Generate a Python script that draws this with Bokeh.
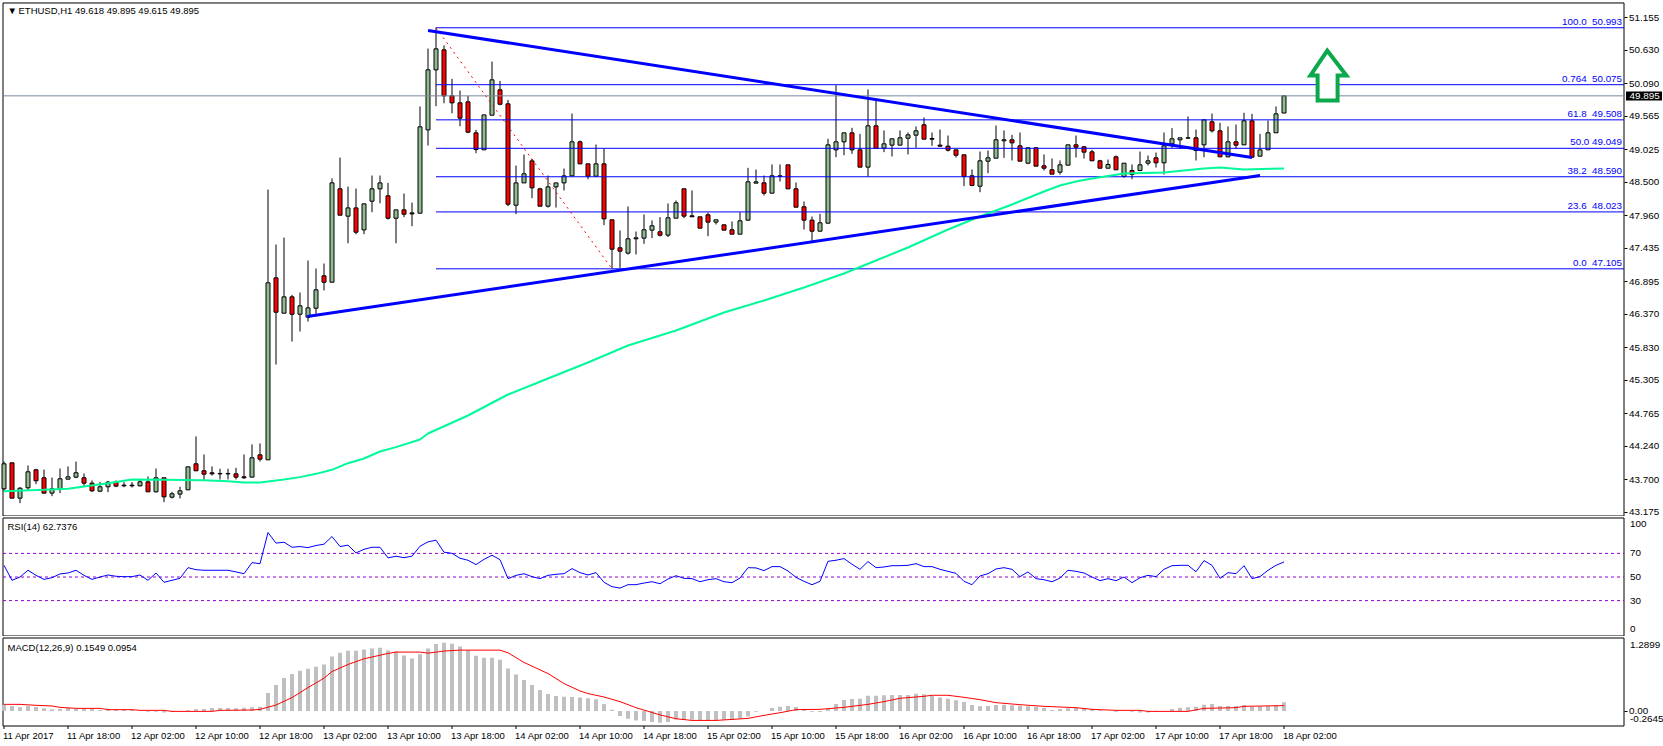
from bokeh.plotting import figure
from bokeh.layouts import column
from bokeh.models import Range1d, FixedTicker, Label, ColumnDataSource, NumeralTickFormatter
from bokeh.core.properties import value
from bokeh.embed import file_html
from bokeh.resources import INLINE

# ---------- data ----------
opens = [
43.556,43.976,43.406,43.573,43.863,43.734,43.487,43.551,43.712,43.745,
43.734,43.648,43.519,43.589,43.664,43.616,43.616,43.605,43.669,43.508,
43.734,43.422,43.471,43.540,43.960,43.847,43.815,43.804,43.804,43.798,
43.750,43.745,44.105,44.024,46.959,46.389,46.653,46.373,46.325,46.470,
46.992,46.889,48.395,47.954,48.088,47.733,48.196,48.395,48.282,47.921,
48.056,48.007,48.002,49.346,50.314,50.637,49.895,49.782,49.798,49.298,
49.024,49.583,49.992,49.766,48.131,48.491,48.846,48.395,48.115,48.427,
48.491,48.604,49.153,48.798,48.599,48.798,47.896,47.444,47.358,47.589,
47.600,47.729,47.702,47.648,47.922,48.396,47.960,47.944,47.976,47.858,
47.815,47.734,47.664,47.890,48.487,48.492,48.325,48.605,48.782,48.395,
48.105,47.890,47.712,47.841,49.024,49.153,49.298,49.024,48.745,49.411,
49.051,49.100,49.100,49.212,49.261,49.428,49.207,49.100,49.083,49.024,
48.944,48.605,48.438,48.841,48.890,49.170,49.186,49.089,48.809,49.057,
48.766,48.702,48.664,48.777,49.105,49.073,48.992,48.847,48.728,48.911,
48.594,48.691,48.691,48.809,48.895,48.815,49.121,49.186,49.212,49.218,
49.105,49.476,49.331,48.911,49.153,49.105,49.492,48.922,49.024,49.299,
49.618]
highs = [
43.997,43.976,43.583,43.933,43.879,43.868,43.739,43.884,43.917,43.997,
43.804,43.691,43.669,43.685,43.691,43.664,43.664,43.702,43.755,43.884,
43.734,43.508,43.589,43.911,44.401,44.110,43.917,43.879,43.879,43.895,
44.110,44.272,44.288,48.384,47.497,47.610,46.685,46.723,47.239,47.110,
47.191,48.562,48.900,48.432,48.400,48.153,48.610,48.610,48.491,48.056,
48.319,48.174,49.723,50.658,50.992,50.707,50.169,49.981,49.895,49.346,
49.588,50.449,50.137,49.830,48.771,48.948,48.878,48.411,48.610,48.491,
48.723,49.610,49.174,48.798,49.110,49.040,47.896,47.723,48.111,47.707,
47.982,47.885,47.939,48.159,48.207,48.396,48.369,47.944,48.014,47.896,
47.815,47.869,48.019,48.734,48.707,48.610,48.788,48.788,48.782,48.497,
48.191,47.949,47.992,49.202,50.067,49.298,49.379,49.282,49.998,49.831,
49.336,49.202,49.336,49.304,49.401,49.546,49.304,49.352,49.255,49.024,
48.944,48.707,48.997,49.013,49.417,49.336,49.266,49.304,49.057,49.057,
48.949,48.884,48.852,49.105,49.255,49.083,49.024,48.863,48.868,48.933,
48.809,48.788,48.997,48.933,48.981,49.304,49.374,49.218,49.562,49.352,
49.508,49.610,49.460,49.401,49.433,49.621,49.605,49.282,49.497,49.723,
49.895]
lows = [
43.530,43.406,43.325,43.540,43.632,43.487,43.438,43.487,43.712,43.728,
43.605,43.508,43.503,43.503,43.583,43.583,43.578,43.594,43.508,43.497,
43.341,43.400,43.400,43.540,43.847,43.702,43.771,43.707,43.707,43.707,
43.718,43.745,43.997,44.024,45.561,46.389,45.932,46.094,46.255,46.352,
46.755,46.889,47.970,47.518,47.663,47.663,48.018,48.163,47.900,47.518,
47.938,47.792,48.002,49.094,49.728,49.776,49.615,49.405,49.293,48.970,
49.024,49.583,49.744,48.115,47.986,48.491,48.244,48.115,48.093,48.093,
48.368,48.604,48.798,48.551,48.599,47.809,47.105,47.121,47.336,47.336,
47.508,47.600,47.627,47.616,47.922,47.922,47.944,47.761,47.632,47.820,
47.729,47.664,47.664,47.879,48.487,48.288,48.325,48.513,48.395,48.099,
47.739,47.535,47.712,47.841,48.906,48.938,48.960,48.745,48.594,49.046,
48.987,48.917,49.100,48.949,49.057,49.196,49.089,49.083,48.997,48.901,
48.438,48.438,48.341,48.648,48.890,48.895,48.852,48.841,48.793,48.761,
48.691,48.632,48.626,48.777,48.901,48.884,48.847,48.728,48.728,48.702,
48.573,48.551,48.680,48.772,48.739,48.626,49.057,49.040,49.212,48.852,
48.906,49.304,48.911,48.906,49.040,49.105,48.895,48.922,49.024,49.299,
49.615]
closes = [
43.960,43.406,43.567,43.831,43.686,43.487,43.556,43.718,43.750,43.815,
43.648,43.524,43.589,43.664,43.600,43.605,43.605,43.669,43.508,43.734,
43.427,43.476,43.524,43.911,43.847,43.793,43.798,43.798,43.798,43.745,
43.734,44.057,44.035,46.879,46.405,46.653,46.373,46.508,46.475,46.766,
46.889,48.492,47.970,48.088,47.696,48.153,48.395,48.491,47.921,48.056,
47.986,47.991,49.395,50.314,50.653,49.895,49.782,49.535,49.309,49.029,
49.588,50.153,49.760,48.147,48.491,48.637,48.411,48.115,48.427,48.491,
48.604,49.153,48.798,48.599,48.798,47.911,47.422,47.390,47.589,47.605,
47.734,47.799,47.648,47.928,48.170,47.955,47.944,47.761,47.858,47.896,
47.729,47.664,47.879,48.508,48.508,48.325,48.605,48.594,48.395,48.099,
47.890,47.712,47.847,49.105,49.153,49.298,49.024,48.745,49.411,49.046,
49.121,49.202,49.218,49.266,49.331,49.196,49.196,49.083,49.019,48.938,
48.594,48.449,48.847,48.895,49.186,49.186,49.137,48.841,49.057,48.761,
48.728,48.632,48.782,49.105,49.067,48.987,48.847,48.728,48.788,48.702,
48.809,48.626,48.782,48.847,48.815,49.089,49.202,49.218,49.218,49.013,
49.508,49.331,48.911,49.153,49.100,49.492,48.906,49.024,49.299,49.605,
49.895]

ema_bars = [0,5,8,10,13,16,20,25,28,30,32,35,37,39,41,43,45,47,49,52,53,58,63,68,73,78,84,90,95,100,105,109,113,118,122,126,130,132,134,136,140,145,150,152,155,160]
ema_vals = [43.519,43.540,43.556,43.594,43.648,43.707,43.702,43.696,43.680,43.659,43.659,43.707,43.745,43.798,43.863,43.970,44.046,44.159,44.229,44.352,44.449,44.739,45.078,45.336,45.594,45.868,46.110,46.400,46.594,46.804,47.030,47.239,47.449,47.739,47.949,48.142,48.352,48.449,48.513,48.562,48.643,48.659,48.723,48.739,48.707,48.723]

rsi_vals = [
59.9,47.2,50.0,55.7,51.4,48.0,49.4,52.6,53.4,55.7,
51.4,48.0,50.0,51.7,50.6,50.3,50.3,51.7,47.2,53.4,
45.5,47.2,48.9,57.9,56.2,55.7,55.7,55.7,55.7,54.3,
52.8,62.2,61.3,87.7,78.7,79.5,75.2,75.8,74.9,76.7,
77.8,84.3,75.8,77.0,70.4,73.5,75.2,75.2,66.2,67.6,
66.4,67.6,76.1,79.8,81.2,71.0,70.1,65.9,64.2,60.5,
65.0,68.4,64.7,48.6,51.4,52.8,50.3,48.6,51.4,52.3,
52.8,57.1,53.7,51.7,53.7,45.5,41.8,40.6,43.5,43.5,
44.9,46.0,44.3,48.3,51.1,48.9,48.6,46.0,47.7,48.6,
46.0,45.2,49.1,57.9,57.7,55.4,58.8,58.8,55.1,49.7,
46.3,43.5,46.3,63.3,64.2,65.6,60.8,56.5,63.1,57.9,
58.5,59.6,59.6,59.9,61.3,58.8,58.8,56.5,54.8,53.1,
46.3,43.5,50.9,52.8,56.8,57.9,56.5,50.3,54.3,48.6,
47.7,46.0,49.1,55.7,54.8,53.4,50.0,46.9,48.6,46.9,
50.0,45.2,49.4,51.4,50.3,56.5,59.6,59.9,59.9,54.5,
63.9,59.9,48.9,53.7,52.8,59.6,48.6,50.3,55.7,59.9,
62.7376]

macd_hist = [
0.106,0.089,0.065,0.089,0.071,0.047,0.030,0.035,0.059,0.035,
0.047,0.047,0.018,0.041,0.030,0.030,0.024,0.006,-0.012,-0.012,
-0.024,-0.018,-0.006,0.012,0.030,0.035,0.053,0.053,0.053,0.047,
0.059,0.065,0.077,0.319,0.461,0.585,0.656,0.710,0.745,0.780,
0.822,0.964,1.029,1.064,1.064,1.088,1.106,1.118,1.070,1.053,
0.982,0.929,1.005,1.106,1.183,1.207,1.189,1.141,1.076,0.976,
0.940,0.940,0.905,0.751,0.644,0.550,0.461,0.373,0.302,0.266,
0.254,0.248,0.237,0.225,0.207,0.124,0.024,-0.089,-0.136,-0.166,
-0.177,-0.195,-0.207,-0.195,-0.148,-0.154,-0.154,-0.160,-0.160,-0.160,
-0.154,-0.154,-0.136,-0.095,-0.012,0.000,0.053,0.077,0.089,0.071,
0.035,-0.012,-0.018,0.047,0.124,0.195,0.213,0.219,0.272,0.272,
0.278,0.284,0.284,0.284,0.307,0.296,0.266,0.237,0.219,0.189,
0.160,0.106,0.083,0.089,0.106,0.112,0.101,0.095,0.083,0.077,
0.053,0.018,0.035,0.047,0.059,0.053,0.030,0.012,0.000,-0.012,
0.006,-0.012,-0.024,-0.024,-0.018,0.000,0.035,0.059,0.065,0.077,
0.112,0.124,0.089,0.089,0.089,0.106,0.077,0.083,0.089,0.106,
0.1549]
signal_bars = [0,2,4,6,7,9,12,13,16,17,20,21,26,27,31,32,34,36,38,40,41,43,45,48,49,52,53,54,55,57,62,63,65,68,70,72,73,75,77,79,82,84,86,89,91,93,95,97,99,102,105,108,110,112,115,116,118,120,122,124,127,130,134,136,139,142,143,148,150,152,154,155,160]
signal_vals = [0.118,0.118,0.101,0.089,0.065,0.047,0.047,0.024,0.024,0.012,0.012,-0.006,-0.006,0.012,0.018,0.030,0.106,0.237,0.414,0.580,0.698,0.822,0.923,1.017,1.041,1.041,1.023,1.041,1.059,1.076,1.076,1.029,0.858,0.662,0.485,0.355,0.308,0.248,0.166,0.059,-0.068,-0.136,-0.166,-0.166,-0.148,-0.130,-0.077,-0.030,0.024,0.030,0.065,0.118,0.166,0.225,0.260,0.278,0.278,0.242,0.201,0.148,0.112,0.083,0.059,0.030,0.012,0.012,-0.006,-0.006,0.047,0.053,0.059,0.083,0.0954]

fib_levels = [50.993,50.075,49.508,49.049,48.590,48.023,47.105]
fib_texts = ["100.0\u00a0 50.993","0.764\u00a0 50.075","61.8\u00a0 49.508","50.0 49.049","38.2\u00a0 48.590","23.6\u00a0 48.023","0.0\u00a0 47.105"]
fib_bar = 54
fib_low_bar = 76
last_price = 49.895
down_bars = [53,156]
down_prices = [50.949,48.901]
up_bars = [37.9,157]
up_prices = [46.336,48.61]
arrow_bars = [165.4,167.8,166.7,166.7,164.2,164.2,163.3]
arrow_prices = [50.625,50.223,50.223,49.82,49.82,50.223,50.223]
price_ticks = [51.155,50.630,50.090,49.565,49.025,48.500,47.960,47.435,46.895,46.370,45.830,45.305,44.765,44.240,43.700,43.175]
rsi_levels = [70,50,30]
time_ticks = list(range(0,161,8))
time_labels = ["11 Apr 2017","11 Apr 18:00","12 Apr 02:00","12 Apr 10:00","12 Apr 18:00","13 Apr 02:00","13 Apr 10:00","13 Apr 18:00","14 Apr 02:00","14 Apr 10:00","14 Apr 18:00","15 Apr 02:00","15 Apr 10:00","15 Apr 18:00","16 Apr 02:00","16 Apr 10:00","16 Apr 18:00","17 Apr 02:00","17 Apr 10:00","17 Apr 18:00","18 Apr 02:00"]

# ---------- style ----------
FONT = "Liberation Sans"
FS = "9.9px"
FS_NOTE = "9.5px"
XL, XR = -0.4375, 207.4375     # whole page width
BOX_L, BOX_R = -0.125, 202.5   # pane frame
UP, DOWN = "#8FBC8F", "#FF0000"
BLUE = "#0000FF"

def make(height, y0, y1, top, bottom):
    p = figure(width=1663, height=height, x_range=Range1d(XL, XR), y_range=Range1d(y0, y1),
               output_backend="svg", toolbar_location=None, x_axis_location=None,
               y_axis_location="right", min_border_left=0, min_border_right=0,
               min_border_top=0, min_border_bottom=0,
               background_fill_color="white", border_fill_color="white")
    p.grid.visible = False
    p.outline_line_color = None
    ax = p.yaxis[0]
    ax.fixed_location = BOX_R
    ax.axis_line_color = None
    ax.major_tick_line_color = "black"
    ax.minor_tick_line_color = None
    ax.major_tick_in = 0
    ax.major_tick_out = 3
    ax.major_label_standoff = 2
    ax.major_label_text_font = FONT
    ax.major_label_text_font_size = FS
    ax.major_label_text_color = "black"
    p.line([BOX_L, BOX_R, BOX_R, BOX_L, BOX_L], [top, top, bottom, bottom, top], line_color="black", line_width=1)
    return p

def note(p, x, y, text, xo=0, yo=0, color="black", size=FS_NOTE, **kw):
    p.add_layout(Label(x=x, y=y, x_offset=xo, y_offset=yo, text=text, text_color=color,
                       text_font=FONT, text_font_size=size, text_align="left", text_baseline="middle", **kw))

n = list(range(len(opens)))

# ---------- price pane ----------
P_TOP, P_BOT = 51.393, 43.118
pr = make(516, 43.110, 51.433, P_TOP, P_BOT)
pr.yaxis[0].ticker = FixedTicker(ticks=price_ticks)
pr.yaxis[0].formatter = NumeralTickFormatter(format="0.000")
pr.segment(n, highs, n, lows, line_color="black", line_width=1)
body = ColumnDataSource(dict(x=n, top=[max(a, b) for a, b in zip(opens, closes)],
                             bottom=[min(a, b) for a, b in zip(opens, closes)],
                             c=[UP if c >= o else DOWN for o, c in zip(opens, closes)]))
pr.vbar(x="x", width=0.5, top="top", bottom="bottom", fill_color="c", line_color="black", line_width=1, source=body)
pr.line([BOX_L, BOX_R], [last_price, last_price], line_color="#778899", line_width=1)
for lv in fib_levels:
    pr.line([fib_bar, BOX_R], [lv, lv], line_color=BLUE, line_width=1)
pr.line([fib_bar, fib_low_bar], [fib_levels[0], fib_levels[-1]], line_color="#FF0000", line_width=1, line_dash=[2, 4])
pr.text(x=[BOX_R]*len(fib_levels), y=fib_levels, text=fib_texts, x_offset=-2, y_offset=-1, text_align="right",
        text_baseline="bottom", text_color=BLUE, text_font=value(FONT), text_font_size="9.8px")
pr.line(ema_bars, ema_vals, line_color="#00FA9A", line_width=2)
pr.line(down_bars, down_prices, line_color=BLUE, line_width=3)
pr.line(up_bars, up_prices, line_color=BLUE, line_width=3)
pr.patch(arrow_bars, arrow_prices, fill_color="white", line_color="#0CA84C", line_width=4, line_join="miter")
note(pr, BOX_L, P_TOP, "\u25BC", xo=4.5, yo=-8)
note(pr, BOX_L, P_TOP, "ETHUSD,H1  49.618 49.895 49.615 49.895", xo=15.5, yo=-8)
pr.quad(left=[202.75], right=[207.25], top=[last_price+0.07], bottom=[last_price-0.075], fill_color="black", line_color=None)
note(pr, BOX_R, last_price, "49.895", xo=5.5, color="white", size=FS)

# ---------- RSI pane ----------
RSI_TOP, RSI_BOT = 100, 0
rs = make(120, -0.42, 101.27, RSI_TOP, RSI_BOT)
rs.yaxis[0].ticker = FixedTicker(ticks=rsi_levels)
rs.yaxis[0].major_tick_out = 0
rs.yaxis[0].major_label_standoff = 6
for lv in rsi_levels:
    rs.line([BOX_L, BOX_R], [lv, lv], line_color="#9400D3", line_width=1, line_dash=[3, 3])
rs.line(n, rsi_vals, line_color=BLUE, line_width=1)
note(rs, BOX_L, 100, "RSI(14) 62.7376", xo=4.5, yo=-9)
note(rs, BOX_R, 100, "100", xo=6, yo=-6.5, size=FS)
note(rs, BOX_R, 0, "0", xo=6, yo=7.5, size=FS)

# ---------- MACD pane ----------
M_TOP, M_BOT = 1.2899, -0.2645
ma = make(109, -0.6089, 1.3164, M_TOP, M_BOT)
ma.yaxis[0].ticker = FixedTicker(ticks=[0])
ma.yaxis[0].formatter = NumeralTickFormatter(format="0.00")
ma.vbar(x=n, width=0.5, top=macd_hist, bottom=0, fill_color="#C0C0C0", line_color=None)
ma.line(signal_bars, signal_vals, line_color="#FF0000", line_width=1)
note(ma, BOX_L, M_TOP, "MACD(12,26,9) 0.1549 0.0954", xo=4.5, yo=-9)
note(ma, BOX_R, M_TOP, "1.2899", xo=6, yo=-7, size=FS)
note(ma, BOX_R, M_BOT, "-0.2645", xo=6, yo=7, size=FS)
ma.segment(time_ticks, [M_BOT]*len(time_ticks), time_ticks, [M_BOT-0.053]*len(time_ticks), line_color="black", line_width=1)
ma.text(x=time_ticks, y=[M_BOT]*len(time_ticks), text=time_labels, x_offset=-1, y_offset=9.5, text_align="left",
        text_baseline="middle", text_color="black", text_font=value(FONT), text_font_size=FS_NOTE)

page = column(pr, rs, ma, spacing=0)
open("out.html", "w").write(file_html(page, INLINE))
